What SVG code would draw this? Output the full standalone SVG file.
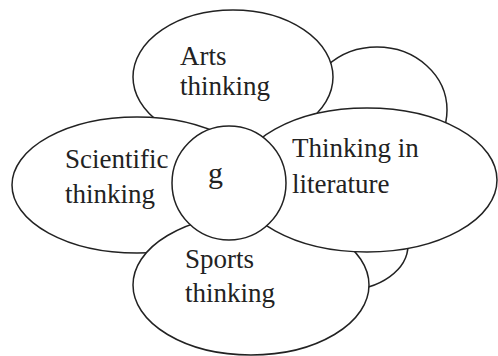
<svg xmlns="http://www.w3.org/2000/svg" width="498" height="356" viewBox="0 0 498 356">
<style>
.s{fill:#fff;stroke:#222;stroke-width:1.5}
.t{font-family:"Liberation Serif","Times New Roman",serif;font-size:27px;fill:#222}
</style>
<rect width="498" height="356" fill="#fff"/>
<g id="back-upper"><ellipse class="s" cx="377" cy="110" rx="70" ry="63"/></g>
<g id="back-lower"><ellipse class="s" cx="345" cy="245" rx="63" ry="45"/></g>
<g id="arts"><ellipse class="s" cx="233" cy="77" rx="100" ry="67"/>
<text class="t" x="180" y="65">Arts</text><text class="t" x="180" y="95">thinking</text></g>
<g id="scientific"><ellipse class="s" cx="137" cy="185" rx="125" ry="68"/>
<text class="t" x="65" y="168">Scientific</text><text class="t" x="65" y="203">thinking</text></g>
<g id="sports"><ellipse class="s" cx="251" cy="285" rx="118" ry="70"/>
<text class="t" x="185" y="268">Sports</text><text class="t" x="185" y="302">thinking</text></g>
<g id="literature"><ellipse class="s" cx="367" cy="180" rx="130" ry="72"/>
<text class="t" x="292" y="157">Thinking in</text><text class="t" x="292" y="193">literature</text></g>
<g id="g"><circle class="s" cx="229" cy="183" r="57"/>
<text class="t" x="208" y="183" style="font-size:30px">g</text></g>
<g id="connectors"/>
</svg>
